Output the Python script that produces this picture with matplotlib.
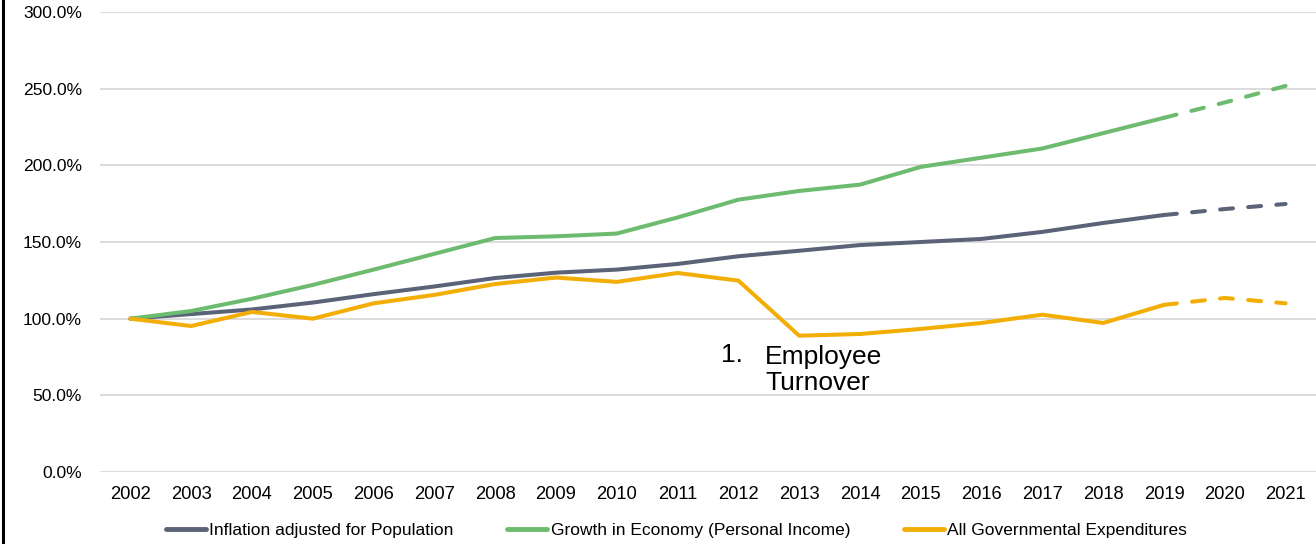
import matplotlib
matplotlib.use("Agg")
import matplotlib.pyplot as plt
from matplotlib.lines import Line2D
from matplotlib.ticker import FuncFormatter

plt.rcParams['font.family'] = ['Liberation Sans', 'DejaVu Sans']

years = [str(y) for y in range(2002, 2022)]
inflation = [100, 103, 106, 110.5, 116, 121, 126.5, 130, 132, 135.7, 140.7, 144.3, 148, 150, 152, 156.6, 162.4, 167.6, 171.5, 174.8]
economy = [100, 105, 113, 122, 132, 142.3, 152.6, 153.7, 155.5, 166, 177.6, 183.3, 187.4, 199, 205, 211, 221, 231, 241, 251.8]
expend = [100, 95.2, 104.4, 100, 110, 115.5, 122.6, 126.8, 124, 129.8, 124.8, 88.9, 90, 93.3, 97.2, 102.6, 97.2, 109, 113.5, 110]
labels = ["Inflation adjusted for Population",
          "Growth in Economy (Personal Income)",
          "All Governmental Expenditures"]
colors = ["#5B6378", "#6DBB6E", "#F2AE05"]
last_actual = years.index("2019")  # solid up to 2019, dashed afterwards

fig = plt.figure(figsize=(13.16, 5.44), dpi=100)
ax = fig.add_axes([100/1316, 1 - 472/544, 1216/1316, 460/544])

x = list(range(len(years)))
k = last_actual
for series, c, lab in zip([inflation, economy, expend], colors, labels):
    ax.plot(x[:k + 1], series[:k + 1], color=c, lw=2.9,
            solid_capstyle='round', solid_joinstyle='round', label=lab, zorder=3)
    ax.plot(x[k:], series[k:], color=c, lw=2.9,
            linestyle=(0, (3.2, 3.8)), dash_capstyle='round', zorder=3)

ax.set_xlim(-0.5, len(years) - 0.5)
ax.set_ylim(0, 300)
ax.set_yticks([0, 50, 100, 150, 200, 250, 300])
ax.yaxis.set_major_formatter(FuncFormatter(lambda v, p: f"{v:.1f}%"))
ax.set_xticks(x)
ax.set_xticklabels(years)
ax.tick_params(axis='both', length=0, colors='#000000')
ax.tick_params(axis='x', pad=10, labelsize=13.2)
ax.tick_params(axis='y', pad=13, labelsize=12.6)
ax.grid(axis='y', color='#D9D9D9', lw=1.3)
ax.set_axisbelow(True)
for s in ax.spines.values():
    s.set_visible(False)

ax.text(9.72, 76.3, "1.", fontsize=19, ha='left', va='center', color='#000000')
ax.text(10.44, 66.5, "Employee\nTurnover", fontsize=19, ha='left', va='center',
        color='#000000', linespacing=1.14)

handles = [Line2D([0], [0], color=c, lw=3.5, solid_capstyle='round') for c in colors]
fig.legend(handles, labels, loc='center', bbox_to_anchor=(676.5/1316, 1 - 530/544),
           ncol=3, frameon=False, fontsize=12.5, handlelength=2.3,
           handletextpad=0.2, columnspacing=3.1, borderpad=0.2)

fig.add_artist(Line2D([2.5/1316, 2.5/1316], [0, 1], color='black', lw=2.2,
                      transform=fig.transFigure))

fig.savefig("out.png", dpi=100)
